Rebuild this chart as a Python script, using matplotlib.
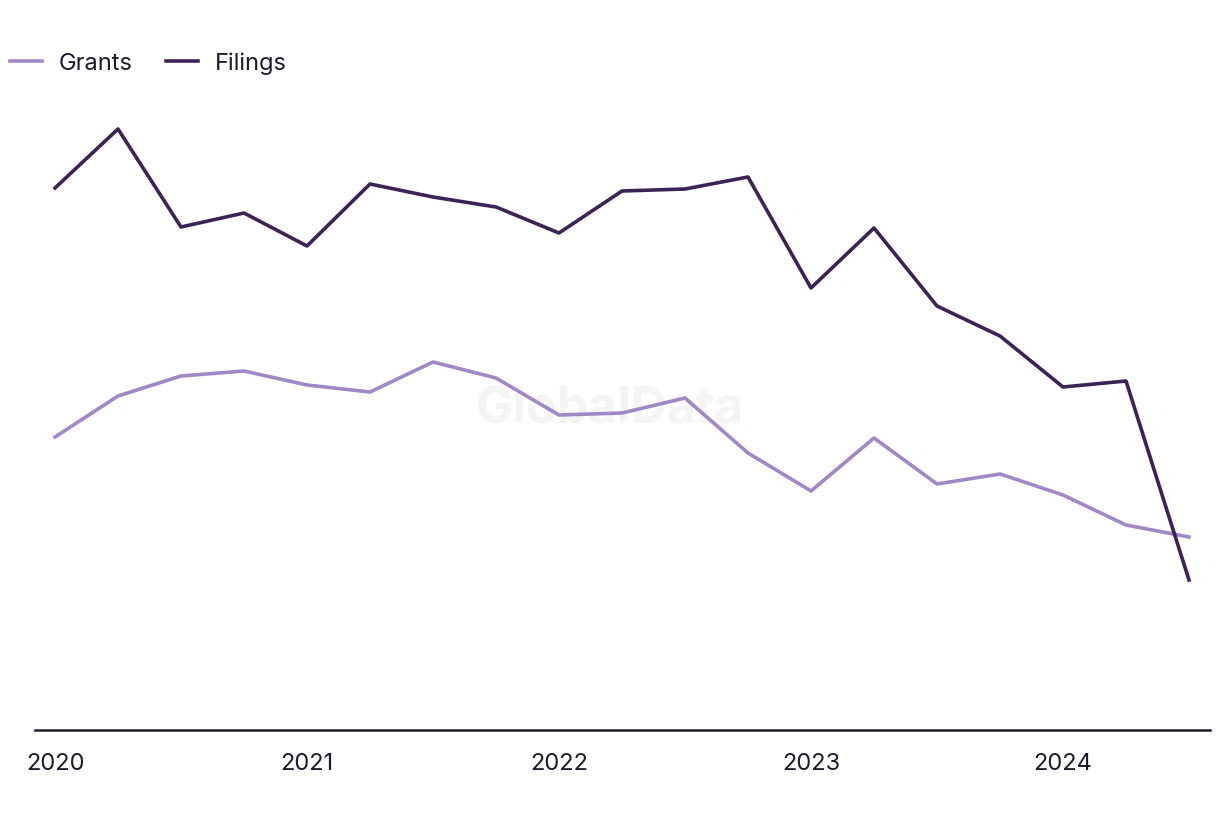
import matplotlib
matplotlib.use("Agg")
import matplotlib.pyplot as plt

quarters = ["2020Q1", "2020Q2", "2020Q3", "2020Q4",
            "2021Q1", "2021Q2", "2021Q3", "2021Q4",
            "2022Q1", "2022Q2", "2022Q3", "2022Q4",
            "2023Q1", "2023Q2", "2023Q3", "2023Q4",
            "2024Q1", "2024Q2", "2024Q3"]
filings = [542, 601, 503, 517, 484, 546, 533, 523, 497, 539, 541, 553,
           442, 502, 424, 394, 343, 349, 150]
grants = [293, 334, 354, 359, 345, 338, 368, 352, 315, 317, 332, 277,
          239, 292, 246, 256, 235, 205, 193]
year_labels = ["2020", "2021", "2022", "2023", "2024"]

plt.rcParams['font.family'] = ['Inter', 'DejaVu Sans']

fig = plt.figure(figsize=(12.2, 8.2), dpi=100)
ax = fig.add_axes([35/1220, 89/820, 1175/1220, 640/820])

x = list(range(len(quarters)))
ax.plot(x, grants, color="#a088c6", lw=2.6, label="Grants", zorder=3)
ax.plot(x, filings, color="#3b2355", lw=2.6, label="Filings", zorder=3)

ax.set_xlim(-20/63, 18 + 21/63)
ax.set_ylim(0, 640)

ax.set_xticks([0, 4, 8, 12, 16])
ax.set_xticklabels(year_labels, fontsize=17, color="#1c1b2e")
ax.tick_params(axis='x', length=0, pad=16)
ax.set_yticks([])
for s in ["top", "right", "left"]:
    ax.spines[s].set_visible(False)
ax.spines["bottom"].set_color("#1c1b2e")
ax.spines["bottom"].set_linewidth(1.8)

ax.text(610/1220, 1 - 410/820, "GlobalData", ha="center", va="center",
        transform=fig.transFigure, fontsize=36, fontweight="bold",
        color="#f4f4f4", zorder=0)

fig.legend(loc="center left", bbox_to_anchor=(0.0, 1 - 64/820), ncol=2,
           frameon=False, fontsize=17, handlelength=1.36, handletextpad=0.72,
           columnspacing=1.4, labelcolor="#1c1b2e", borderaxespad=0, borderpad=0.42)

fig.savefig("out.png", dpi=100, facecolor="white")
